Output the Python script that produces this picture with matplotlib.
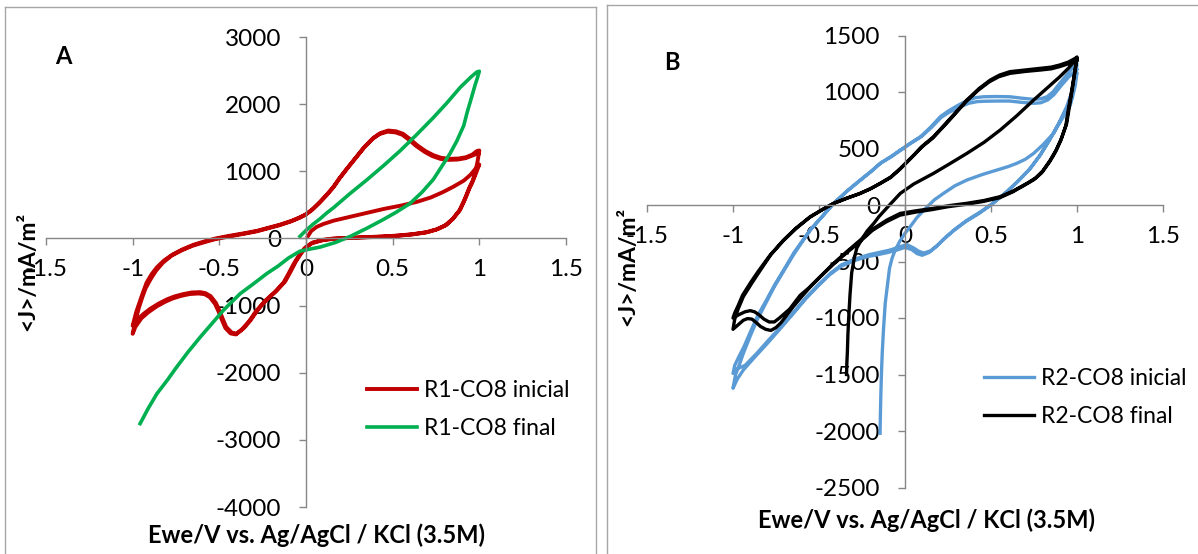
import matplotlib
matplotlib.use("Agg")
import matplotlib.pyplot as plt
from matplotlib.lines import Line2D

plt.rcParams["font.family"] = ["Lato", "DejaVu Sans"]
plt.rcParams["axes.unicode_minus"] = False

# ---- panel A : R1-CO8, (E / V, J / mA m-2), sweep by sweep ----
r1_ini_start = [(0.01, 30), (0.03, 110), (0.06, 170), (0.10, 215), (0.16, 265), (0.25, 320),
                (0.35, 380), (0.45, 440), (0.55, 490), (0.64, 545), (0.72, 610), (0.79, 690),
                (0.85, 770), (0.91, 860), (0.95, 950), (0.985, 1060), (1.0, 1100)]
r1_ini_rev1 = [(0.985, 1000), (0.97, 900), (0.955, 810), (0.945, 760), (0.92, 600), (0.89, 430),
               (0.85, 300), (0.81, 200), (0.76, 140), (0.70, 95), (0.62, 65), (0.54, 45),
               (0.45, 30), (0.35, 20), (0.25, 10), (0.16, 0), (0.10, -20), (0.04, -60),
               (0.0, -130), (-0.03, -230), (-0.06, -350), (-0.09, -500), (-0.12, -640),
               (-0.17, -780), (-0.23, -920), (-0.28, -1070), (-0.32, -1220), (-0.36, -1340),
               (-0.40, -1420), (-0.43, -1400), (-0.46, -1320), (-0.48, -1200), (-0.50, -1070),
               (-0.52, -960), (-0.55, -860), (-0.58, -815), (-0.61, -800), (-0.66, -805),
               (-0.71, -830), (-0.76, -865), (-0.80, -905), (-0.85, -970), (-0.90, -1050),
               (-0.94, -1130), (-0.98, -1230), (-1.0, -1300)]
r1_ini_fwd2 = [(-0.98, -1100), (-0.96, -950), (-0.94, -800), (-0.92, -660), (-0.89, -530),
               (-0.86, -430), (-0.82, -330), (-0.77, -240), (-0.71, -160), (-0.65, -95),
               (-0.58, -40), (-0.52, 0), (-0.44, 40), (-0.35, 80), (-0.28, 115), (-0.215, 160),
               (-0.15, 205), (-0.08, 265), (-0.03, 320), (0.0, 360), (0.04, 440), (0.08, 540),
               (0.12, 650), (0.16, 770), (0.195, 900), (0.24, 1050), (0.29, 1210), (0.34, 1370),
               (0.39, 1500), (0.43, 1570), (0.475, 1607), (0.52, 1595), (0.56, 1558),
               (0.60, 1480), (0.64, 1390), (0.69, 1300), (0.735, 1240), (0.78, 1200),
               (0.83, 1185), (0.88, 1190), (0.925, 1210), (0.96, 1250), (0.985, 1300),
               (1.0, 1310)]
r1_ini_rev2 = [(0.99, 1150), (0.975, 960), (0.96, 850), (0.94, 740), (0.915, 580), (0.885, 415),
               (0.845, 285), (0.80, 190), (0.75, 130), (0.69, 88), (0.61, 58), (0.53, 40),
               (0.44, 26), (0.34, 15), (0.24, 5), (0.15, -8), (0.09, -30), (0.03, -75),
               (-0.01, -150), (-0.04, -250), (-0.07, -375), (-0.10, -520), (-0.13, -660),
               (-0.18, -800), (-0.24, -940), (-0.29, -1090), (-0.33, -1240), (-0.37, -1355),
               (-0.405, -1430), (-0.435, -1415), (-0.465, -1335), (-0.485, -1215),
               (-0.505, -1085), (-0.525, -975), (-0.555, -875), (-0.585, -830), (-0.62, -820),
               (-0.67, -828), (-0.72, -855), (-0.77, -895), (-0.81, -940), (-0.86, -1010),
               (-0.91, -1100), (-0.95, -1190), (-0.985, -1320), (-1.0, -1420)]
r1_ini_fwd3 = [(-0.985, -1240), (-0.965, -1040), (-0.945, -880), (-0.925, -740), (-0.895, -600),
               (-0.865, -480), (-0.825, -360), (-0.775, -255), (-0.715, -175), (-0.655, -110),
               (-0.585, -55), (-0.525, -12), (-0.445, 28), (-0.355, 70), (-0.285, 105),
               (-0.22, 150), (-0.155, 195), (-0.085, 255), (-0.035, 310), (-0.005, 350),
               (0.035, 425), (0.075, 525), (0.115, 635), (0.155, 755), (0.19, 885),
               (0.235, 1035), (0.285, 1195), (0.335, 1355), (0.385, 1485), (0.425, 1555),
               (0.47, 1590), (0.515, 1580), (0.555, 1545), (0.595, 1468), (0.635, 1378),
               (0.685, 1288), (0.73, 1225), (0.775, 1185), (0.825, 1170), (0.875, 1175),
               (0.92, 1195), (0.955, 1230), (0.995, 1270)]

r1_fin_fwd = [(-0.035, 30), (0.0, 120), (0.04, 210), (0.08, 290), (0.12, 380), (0.16, 460),
              (0.25, 660), (0.35, 870), (0.45, 1090), (0.545, 1310), (0.64, 1550), (0.735, 1800),
              (0.81, 2010), (0.89, 2250), (0.95, 2400), (0.985, 2478), (1.0, 2490)]
r1_fin_rev = [(0.99, 2400), (0.975, 2280), (0.955, 2100), (0.93, 1880), (0.91, 1680),
              (0.87, 1450), (0.83, 1260), (0.78, 1060), (0.735, 880), (0.67, 690), (0.60, 520),
              (0.52, 390), (0.445, 280), (0.35, 150), (0.255, 30), (0.17, -60), (0.08, -130),
              (0.0, -170), (-0.035, -190), (-0.10, -290), (-0.16, -410), (-0.227, -525),
              (-0.30, -670), (-0.38, -823), (-0.43, -950), (-0.477, -1071), (-0.54, -1260),
              (-0.61, -1469), (-0.68, -1690), (-0.746, -1915), (-0.80, -2110), (-0.86, -2312),
              (-0.91, -2530), (-0.957, -2758)]

# ---- panel B : R2-CO8 ----
r2_ini_start = [(-0.145, -2020), (-0.143, -1850), (-0.14, -1650), (-0.136, -1450), (-0.132, -1300),
                (-0.125, -1100), (-0.115, -870), (-0.10, -680), (-0.09, -560), (-0.075, -470),
                (-0.06, -410), (-0.03, -320), (0.0, -250), (0.03, -192), (0.07, -110),
                (0.12, -30), (0.17, 45), (0.224, 103), (0.29, 170), (0.36, 221), (0.45, 270),
                (0.535, 310), (0.60, 340), (0.65, 369), (0.70, 405), (0.748, 457), (0.80, 530),
                (0.864, 634), (0.90, 740), (0.94, 870), (0.97, 1000), (0.99, 1135), (1.0, 1170)]
r2_ini_rev1 = [(0.99, 1060), (0.975, 960), (0.96, 880), (0.92, 780), (0.88, 680), (0.83, 550),
               (0.78, 430), (0.72, 310), (0.65, 200), (0.58, 100), (0.50, 0), (0.43, -75),
               (0.35, -150), (0.28, -230), (0.22, -310), (0.18, -370), (0.14, -420), (0.10, -445),
               (0.07, -430), (0.04, -395), (0.0, -375), (-0.04, -395), (-0.10, -420),
               (-0.16, -440), (-0.22, -457), (-0.30, -495), (-0.376, -546), (-0.44, -620),
               (-0.51, -723), (-0.58, -835), (-0.648, -958), (-0.72, -1085), (-0.80, -1224),
               (-0.87, -1340), (-0.94, -1460), (-0.975, -1540), (-1.0, -1622)]
r2_ini_fwd2 = [(-0.985, -1500), (-0.96, -1400), (-0.94, -1313), (-0.90, -1160), (-0.86, -1018),
               (-0.81, -870), (-0.76, -723), (-0.70, -570), (-0.648, -440), (-0.60, -330),
               (-0.55, -220), (-0.48, -100), (-0.415, 15), (-0.34, 120), (-0.26, 221),
               (-0.20, 295), (-0.144, 369), (-0.08, 430), (-0.027, 487), (0.03, 545), (0.09, 604),
               (0.15, 690), (0.205, 781), (0.25, 830), (0.30, 875), (0.36, 925), (0.41, 950),
               (0.457, 958), (0.53, 960), (0.61, 958), (0.68, 945), (0.748, 935), (0.79, 940),
               (0.826, 958), (0.86, 1000), (0.90, 1077), (0.94, 1150), (0.98, 1224), (1.0, 1250)]
r2_ini_rev2 = [(0.99, 1120), (0.98, 1040), (0.965, 930), (0.93, 820), (0.89, 710), (0.84, 575),
               (0.79, 450), (0.73, 325), (0.66, 215), (0.59, 115), (0.51, 15), (0.44, -60),
               (0.36, -135), (0.29, -215), (0.23, -295), (0.19, -355), (0.15, -405), (0.11, -425),
               (0.08, -410), (0.05, -380), (0.01, -350), (-0.03, -370), (-0.09, -400),
               (-0.15, -420), (-0.21, -440), (-0.29, -478), (-0.37, -530), (-0.43, -600),
               (-0.50, -700), (-0.57, -810), (-0.64, -935), (-0.71, -1060), (-0.79, -1190),
               (-0.86, -1310), (-0.93, -1420), (-0.97, -1445), (-1.0, -1490)]
r2_ini_fwd3 = [(-0.99, -1420), (-0.965, -1340), (-0.935, -1250), (-0.895, -1110), (-0.855, -975),
               (-0.805, -840), (-0.755, -700), (-0.695, -550), (-0.645, -420), (-0.595, -315),
               (-0.545, -210), (-0.475, -90), (-0.41, 20), (-0.335, 125), (-0.255, 225),
               (-0.195, 298), (-0.14, 372), (-0.075, 432), (-0.02, 490), (0.035, 548),
               (0.095, 605), (0.155, 688), (0.21, 775), (0.255, 820), (0.31, 860), (0.37, 900),
               (0.42, 915), (0.46, 918), (0.53, 920), (0.61, 920), (0.68, 908), (0.75, 900),
               (0.79, 905), (0.83, 930), (0.865, 975), (0.91, 1060), (0.95, 1130), (1.0, 1200)]

r2_fin_start = [(-0.34, -1500), (-0.338, -1400), (-0.335, -1300), (-0.332, -1150), (-0.328, -1018),
                (-0.32, -800), (-0.31, -600), (-0.295, -470), (-0.28, -380), (-0.25, -300),
                (-0.22, -230), (-0.18, -160), (-0.15, -100), (-0.09, 0), (-0.027, 103),
                (0.05, 185), (0.166, 280), (0.26, 365), (0.36, 457), (0.46, 555), (0.554, 664),
                (0.65, 790), (0.748, 929), (0.83, 1040), (0.90, 1135), (0.95, 1210),
                (0.99, 1283), (1.0, 1300)]
r2_fin_rev1 = [(0.985, 1150), (0.97, 1000), (0.955, 860), (0.94, 723), (0.91, 590), (0.88, 490),
               (0.845, 398), (0.80, 300), (0.76, 240), (0.71, 192), (0.63, 125), (0.554, 74),
               (0.46, 40), (0.36, 15), (0.26, -5), (0.166, -29), (0.07, -50), (-0.027, -74),
               (-0.105, -133), (-0.18, -206), (-0.26, -310), (-0.34, -415), (-0.415, -516),
               (-0.48, -615), (-0.55, -723), (-0.60, -810), (-0.65, -900), (-0.69, -980),
               (-0.72, -1040), (-0.75, -1085), (-0.78, -1110), (-0.81, -1100), (-0.84, -1075),
               (-0.865, -1040), (-0.89, -1010), (-0.915, -1005), (-0.94, -1020), (-0.97, -1060),
               (-1.0, -1100)]
r2_fin_fwd2 = [(-0.99, -1010), (-0.97, -920), (-0.94, -811), (-0.89, -690), (-0.84, -575),
               (-0.78, -440), (-0.706, -310), (-0.63, -200), (-0.55, -103), (-0.48, -40),
               (-0.415, 15), (-0.34, 60), (-0.26, 103), (-0.20, 145), (-0.144, 192),
               (-0.08, 250), (-0.027, 324), (0.05, 440), (0.10, 520), (0.166, 604), (0.26, 760),
               (0.36, 929), (0.43, 1030), (0.496, 1106), (0.55, 1150), (0.61, 1180),
               (0.70, 1195), (0.787, 1209), (0.85, 1220), (0.90, 1239), (0.95, 1265),
               (0.99, 1298), (1.0, 1310)]
r2_fin_rev2 = [(0.985, 1160), (0.97, 1020), (0.95, 850), (0.935, 700), (0.905, 570), (0.875, 470),
               (0.84, 380), (0.795, 285), (0.75, 225), (0.70, 180), (0.625, 115), (0.55, 64),
               (0.45, 30), (0.35, 5), (0.25, -15), (0.16, -40), (0.065, -62), (-0.03, -90),
               (-0.11, -150), (-0.19, -225), (-0.27, -335), (-0.345, -430), (-0.42, -530),
               (-0.49, -630), (-0.56, -735), (-0.61, -800), (-0.64, -860), (-0.67, -920),
               (-0.70, -960), (-0.73, -1000), (-0.76, -1035), (-0.79, -1035), (-0.82, -1010),
               (-0.85, -970), (-0.875, -945), (-0.90, -935), (-0.93, -945), (-0.965, -970),
               (-1.0, -1000)]
r2_fin_fwd3 = [(-0.99, -955), (-0.97, -890), (-0.945, -800), (-0.895, -680), (-0.85, -580),
               (-0.785, -445), (-0.71, -320), (-0.635, -210), (-0.555, -110), (-0.485, -45),
               (-0.42, 10), (-0.345, 55), (-0.265, 100), (-0.205, 140), (-0.15, 185),
               (-0.085, 242), (-0.03, 315), (0.045, 430), (0.095, 510), (0.16, 590),
               (0.255, 745), (0.355, 915), (0.425, 1015), (0.49, 1090), (0.545, 1135),
               (0.61, 1165), (0.70, 1182), (0.79, 1195), (0.85, 1205), (0.90, 1225),
               (0.95, 1250), (1.0, 1280)]

x_ticks = [-1.5, -1, -0.5, 0, 0.5, 1, 1.5]
x_tick_labels = ["-1.5", "-1", "-0.5", "0", "0.5", "1", "1.5"]
yticks_a = [-4000, -3000, -2000, -1000, 0, 1000, 2000, 3000]
yticks_b = [-2500, -2000, -1500, -1000, -500, 0, 500, 1000, 1500]

W, H = 1198, 554
fig = plt.figure(figsize=(W / 100, H / 100), dpi=100)


def fx(px):
    return px / W


def fy(py):
    return 1 - py / H


def unzip(*sweeps):
    pts = [p for s in sweeps for p in s]
    return [p[0] for p in pts], [p[1] for p in pts]


def style_axes(ax, yticks):
    ax.set_xlim(-1.5, 1.5)
    ax.set_ylim(yticks[0], yticks[-1])
    for s in ("top", "right"):
        ax.spines[s].set_visible(False)
    for s in ("left", "bottom"):
        ax.spines[s].set_position(("data", 0))
        ax.spines[s].set_color("#868686")
        ax.spines[s].set_linewidth(1.0)
    ax.set_xticks(x_ticks)
    ax.set_xticklabels(x_tick_labels)
    ax.set_yticks(yticks)
    ax.set_yticklabels([str(v) for v in yticks])
    ax.tick_params(axis="both", direction="out", length=5, width=1, color="#868686",
                   labelsize=17.5, labelcolor="black")
    ax.tick_params(axis="x", pad=10)
    ax.tick_params(axis="y", pad=13)
    ax.patch.set_alpha(0)


ax_a = fig.add_axes([fx(46), fy(507), fx(566) - fx(46), fy(37) - fy(507)])
style_axes(ax_a, yticks_a)
v, j = unzip(r1_ini_start, r1_ini_rev1, r1_ini_fwd2, r1_ini_rev2, r1_ini_fwd3)
ax_a.plot(v, j, color="#C00000", lw=2.8, solid_joinstyle="round", label="R1-CO8 inicial")
v, j = unzip(r1_fin_fwd, r1_fin_rev)
ax_a.plot(v, j, color="#00B050", lw=2.6, solid_joinstyle="round", label="R1-CO8 final")

ax_b = fig.add_axes([fx(647), fy(487.5), fx(1163) - fx(647), fy(35.5) - fy(487.5)])
style_axes(ax_b, yticks_b)
v, j = unzip(r2_ini_start, r2_ini_rev1, r2_ini_fwd2, r2_ini_rev2, r2_ini_fwd3)
ax_b.plot(v, j, color="#5B9BD5", lw=2.4, solid_joinstyle="round", label="R2-CO8 inicial")
v, j = unzip(r2_fin_start, r2_fin_rev1, r2_fin_fwd2, r2_fin_rev2, r2_fin_fwd3)
ax_b.plot(v, j, color="black", lw=2.4, solid_joinstyle="round", label="R2-CO8 final")

for ax, px, py in ((ax_a, 367, 409.5), (ax_b, 984, 397.5)):
    ax.legend(loc="center left", bbox_to_anchor=(fx(px), fy(py)), bbox_transform=fig.transFigure,
              frameon=False, fontsize=16.5, handlelength=2.2, handletextpad=0.3,
              labelspacing=0.75, borderpad=0, borderaxespad=0)

xlabel = "Ewe/V vs. Ag/AgCl / KCl (3.5M)"
ylabel = "<J>/mA/m²"
fig.text(fx(316), fy(535), xlabel, ha="center", va="center", fontsize=17, fontweight="bold")
fig.text(fx(926), fy(520), xlabel, ha="center", va="center", fontsize=17, fontweight="bold")
fig.text(fx(28), fy(271), ylabel, ha="center", va="center", rotation=90, fontsize=16.5,
         fontweight="bold")
fig.text(fx(628), fy(266), ylabel, ha="center", va="center", rotation=90, fontsize=16.5,
         fontweight="bold")
fig.text(fx(63), fy(57), "A", ha="center", va="center", fontsize=17, fontweight="bold")
fig.text(fx(672), fy(62), "B", ha="center", va="center", fontsize=17, fontweight="bold")

# chart frames
frame = dict(color="#a6a6a6", lw=1.0, transform=fig.transFigure)
for xs, ys in (([5, 596], [7, 7]), ([5, 5], [7, 554]), ([596, 596], [7, 554]),
               ([607, 1198], [5, 5]), ([607, 607], [5, 554])):
    fig.add_artist(Line2D([fx(v) for v in xs], [fy(v) for v in ys], **frame))

fig.savefig("out.png", dpi=100)
